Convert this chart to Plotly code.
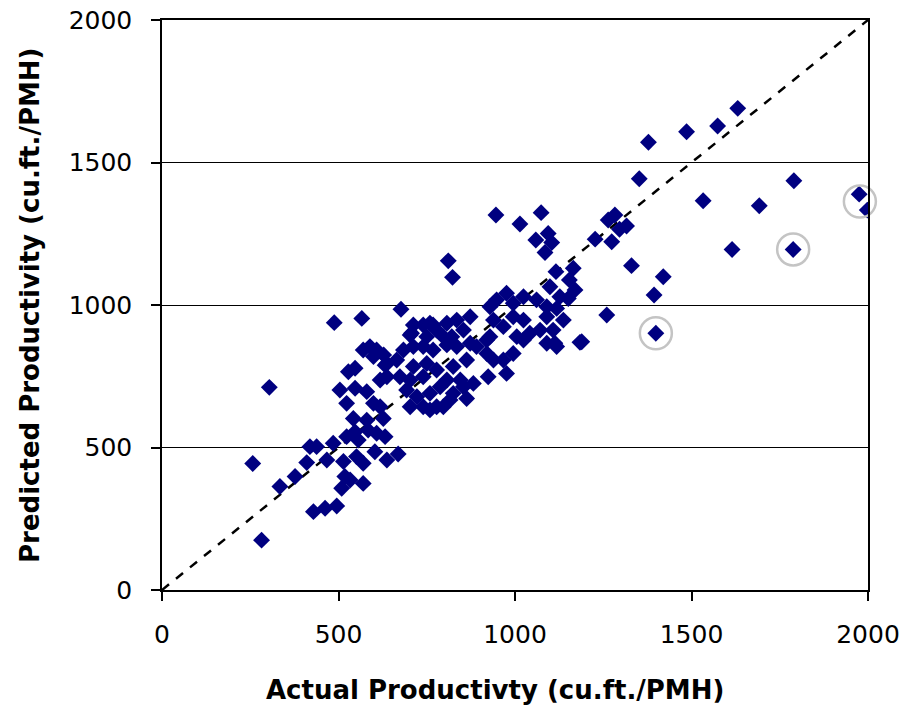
import plotly.graph_objects as go

actual = [
    1631, 1574, 1486, 1378, 1352, 1790, 1533, 1692, 1975, 1998, 1788, 1615, 1264, 1283, 1296, 1316,
    1227, 1274, 1330, 1420, 1394, 1260, 1399, 1189,
    946, 1074, 1014, 1059, 1094, 1104, 1085, 1116, 1165, 1154, 1170, 1151, 1113, 1184, 920, 939, 976, 995,
    677, 488, 566, 304, 257, 282, 334, 377, 410, 419, 438, 429, 462, 495, 485, 518, 533, 509, 570, 467,
    514, 551, 570, 603, 637, 669, 523, 547, 556, 584, 608, 632, 542, 580, 627, 504, 523, 547, 580, 599,
    528, 547, 618, 632, 570, 589, 608, 628, 637, 684, 707, 740, 759, 778, 797, 599, 618,
    811, 823, 712, 768, 703, 750, 807, 835, 821, 854, 873,
    1099, 1127, 1061, 1090, 1118, 976, 948, 929, 995, 1024, 939, 967, 995, 1024, 1042, 1005, 929, 1090,
    1071, 1108, 1137, 1118, 1090,
    712, 740, 768, 807, 835, 873, 665, 637, 712, 750, 778, 825, 863, 674, 703, 740, 807, 845, 693, 722,
    759, 788, 825, 854, 703, 740, 778, 816, 863,
    891, 920, 967, 1024, 924, 882, 759, 797,
]
predicted = [
    1690, 1628, 1608, 1571, 1443, 1436, 1366, 1348, 1389, 1333, 1195, 1195, 1298, 1316, 1266, 1277,
    1231, 1222, 1138, 1099, 1035, 965, 901, 871,
    1316, 1324, 1284, 1228, 1251, 1219, 1184, 1117, 1129, 1088, 1053, 1023, 866, 869, 877, 807, 760, 830,
    985, 938, 953, 711, 444, 175, 363, 398, 447, 503, 503, 275, 287, 295, 515, 398, 386, 357, 374, 456,
    451, 468, 445, 485, 456, 477, 538, 555, 526, 561, 550, 538, 602, 596, 602, 702, 655, 708, 696, 655,
    766, 778, 737, 789, 842, 854, 842, 825, 795, 842, 901, 930, 936, 912, 889, 819, 643,
    1155, 1097, 930, 930, 895, 889, 936, 947, 889, 912, 959,
    1064, 1029, 1018, 994, 988, 1041, 1018, 994, 1006, 1029, 947, 924, 959, 947, 901, 889, 889, 959,
    912, 912, 947, 854, 866,
    854, 854, 842, 860, 854, 866, 807, 748, 784, 795, 772, 784, 807, 748, 737, 748, 737, 737, 702, 678,
    690, 713, 690, 713, 643, 643, 643, 667, 672,
    854, 830, 807, 877, 748, 725, 632, 643,
]

# highlighted (circled) observations
circled_actual = [1399, 1788, 1977]
circled_predicted = [901, 1195, 1363]

# 1:1 reference line
line_x = [0, 2000]
line_y = [0, 2000]

x_ticks = [0, 500, 1000, 1500, 2000]
y_ticks = [0, 500, 1000, 1500, 2000]

x_title = "Actual Productivty (cu.ft./PMH)"
y_title = "Predicted Productivity (cu.ft./PMH)"

FONT = "DejaVu Sans, Liberation Sans, Arial, sans-serif"

fig = go.Figure()
fig.add_trace(go.Scatter(
    x=line_x, y=line_y, mode="lines",
    line=dict(color="black", width=2.5, dash="dash"),
    hoverinfo="skip", showlegend=False,
))
fig.add_trace(go.Scatter(
    x=actual, y=predicted, mode="markers",
    marker=dict(symbol="diamond", size=13, color="#000080", line=dict(width=0)),
    showlegend=False,
))
fig.add_trace(go.Scatter(
    x=circled_actual, y=circled_predicted, mode="markers",
    marker=dict(symbol="circle-open", size=32, color="#c4c4c4", line=dict(width=2.5, color="#c4c4c4")),
    showlegend=False, cliponaxis=False,
))

fig.update_layout(
    width=906, height=715,
    margin=dict(l=162, r=38, t=20, b=125),
    paper_bgcolor="white", plot_bgcolor="white",
    font=dict(family=FONT, size=25, color="black"),
    annotations=[
        dict(text="<b>" + x_title + "</b>", xref="paper", yref="paper",
             x=0.4717, y=-0.1754, xanchor="center", yanchor="middle",
             showarrow=False, font=dict(family=FONT, size=26, color="black")),
        dict(text="<b>" + y_title + "</b>", xref="paper", yref="paper",
             x=-0.187, y=0.5, xanchor="center", yanchor="middle", textangle=-90,
             showarrow=False, font=dict(family=FONT, size=26, color="black")),
    ],
)
fig.update_xaxes(
    range=[0, 2000], tickvals=x_ticks, ticktext=[str(v) for v in x_ticks],
    showgrid=False, zeroline=False, automargin=False,
    showline=True, linecolor="black", linewidth=1.5, mirror=True,
    ticks="outside", ticklen=9, tickwidth=1.5, tickcolor="black",
    tickfont=dict(family=FONT, size=25), ticklabelstandoff=12,
)
fig.update_yaxes(
    range=[0, 2000], tickvals=y_ticks, ticktext=[str(v) for v in y_ticks],
    showgrid=True, gridcolor="black", gridwidth=1.2, zeroline=False, automargin=False,
    showline=True, linecolor="black", linewidth=1.5, mirror=True,
    ticks="outside", ticklen=9, tickwidth=1.5, tickcolor="black",
    tickfont=dict(family=FONT, size=25), ticklabelstandoff=14,
)

fig.write_html("out.html")
